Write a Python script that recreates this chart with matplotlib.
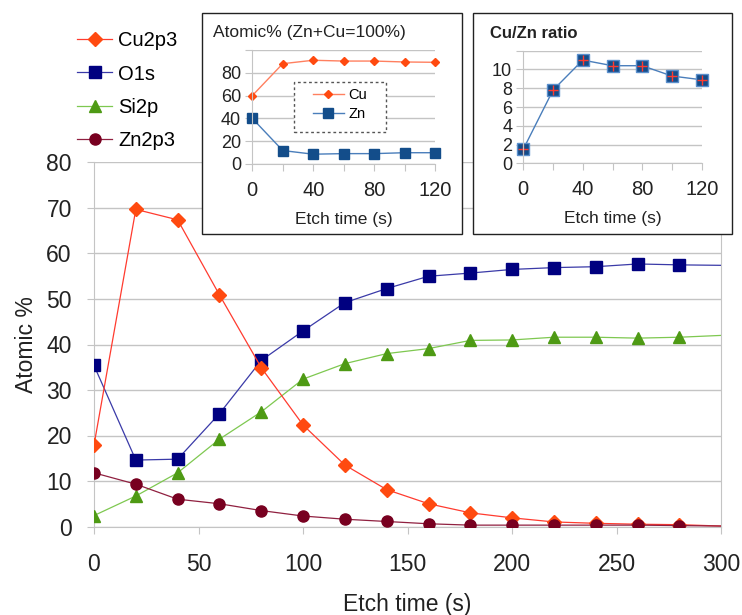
import numpy as np
import matplotlib
matplotlib.use("Agg")
import matplotlib.pyplot as plt
from matplotlib.patches import Rectangle

plt.rcParams['font.family'] = ['Liberation Sans', 'DejaVu Sans']

# main chart data (last point at 300 s is drawn without marker)
etch_time = [0, 20, 40, 60, 80, 100, 120, 140, 160, 180, 200, 220, 240, 260, 280, 300]
cu2p3 = [17.9, 69.7, 67.4, 50.9, 34.9, 22.3, 13.5, 8.1, 5.0, 3.0, 1.9, 1.0, 0.7, 0.5, 0.4, 0.1]
o1s = [35.4, 14.6, 14.8, 24.8, 36.5, 43.0, 49.2, 52.3, 55.0, 55.7, 56.5, 56.9, 57.1, 57.7, 57.5, 57.4]
si2p = [2.4, 6.7, 11.8, 19.2, 25.2, 32.4, 35.8, 38.0, 39.1, 40.9, 41.0, 41.6, 41.6, 41.4, 41.6, 42.0]
zn2p3 = [11.8, 9.3, 6.0, 5.0, 3.5, 2.3, 1.6, 1.1, 0.6, 0.3, 0.3, 0.3, 0.3, 0.3, 0.2, 0.1]

# inset data
inset_time = [0, 20, 40, 60, 80, 100, 120]
cu_pct = [60.0, 88.0, 91.0, 90.3, 90.3, 89.5, 89.2]
zn_pct = [40.0, 11.8, 8.6, 9.1, 9.1, 9.9, 9.9]
cu_zn_ratio = [1.5, 7.8, 11.0, 10.4, 10.4, 9.3, 8.9]

W, H = 742, 615
fig = plt.figure(figsize=(W / 100, H / 100), dpi=100)

def fx(px):
    return px / W

def fy(py):
    return 1 - py / H

grid_c = '#c4c4c4'
txt_c = '#222222'

# ---------------- main axes ----------------
ax = fig.add_axes([fx(94), fy(526.5), fx(721.3 - 94), (526.5 - 162.5) / H])
mk = list(range(15))
ax.plot(etch_time, cu2p3, '-', color='#ff3b2f', lw=0.9, marker='D', ms=7.5,
        mfc='#ff4a10', mec='#ff4a10', markevery=mk, label='Cu2p3', zorder=4)
ax.plot(etch_time, o1s, '-', color='#3a3aa8', lw=0.9, marker='s', ms=8,
        mfc='#000080', mec='#000080', markevery=mk, label='O1s', zorder=3)
ax.plot(etch_time, si2p, '-', color='#7ec850', lw=0.9, marker='^', ms=9,
        mfc='#4e9a14', mec='#4e9a14', markevery=mk, label='Si2p', zorder=3)
ax.plot(etch_time, zn2p3, '-', color='#902040', lw=0.9, marker='o', ms=8,
        mfc='#780020', mec='#780020', markevery=mk, label='Zn2p3', zorder=5)

ax.set_xlim(0, 300)
ax.set_ylim(0, 80)
ax.set_xticks(np.arange(0, 301, 50))
ax.set_yticks(np.arange(0, 81, 10))
ax.grid(axis='y', color=grid_c, lw=1)
ax.set_axisbelow(True)
for s in ['left', 'right', 'top', 'bottom']:
    ax.spines[s].set_color(grid_c)
ax.spines['top'].set_visible(False)
ax.tick_params(axis='y', length=5, color=grid_c, labelsize=16.5, pad=11, labelcolor=txt_c)
ax.tick_params(axis='x', length=5, color=grid_c, labelsize=16.5, pad=14, labelcolor=txt_c)
ax.set_xlabel('Etch time (s)', fontsize=16.5, labelpad=12, color=txt_c)
ax.set_ylabel('Atomic %', fontsize=16.5, labelpad=6, color=txt_c)

fig.legend(loc='upper left', bbox_to_anchor=(fx(77), fy(31)), frameon=False,
           fontsize=14.5, handlelength=1.75, handletextpad=0.3, labelspacing=0.72,
           borderpad=0, borderaxespad=0)

# ---------------- inset frames ----------------
for x0, x1 in [(202, 462), (472.7, 731.7)]:
    fig.patches.append(Rectangle((fx(x0), fy(233.5)), fx(x1 - x0), (233.5 - 12.5) / H,
                                 transform=fig.transFigure, facecolor='white',
                                 edgecolor=txt_c, lw=1.0, zorder=10))

def style_inset(a):
    a.set_zorder(11)
    a.patch.set_alpha(0)
    a.set_xlim(0, 120)
    a.set_xticks(np.arange(0, 121, 20))
    a.set_xticklabels(['0', '', '40', '', '80', '', '120'])
    a.grid(axis='y', color=grid_c, lw=1)
    a.set_axisbelow(True)
    for s in ['left', 'right', 'top', 'bottom']:
        a.spines[s].set_color(grid_c)
    a.spines['top'].set_visible(False)
    a.spines['right'].set_visible(False)
    a.tick_params(axis='both', length=5, color=grid_c, labelcolor=txt_c)
    a.tick_params(axis='x', pad=7, labelsize=14.5)
    a.tick_params(axis='y', pad=3, labelsize=13)
    a.set_xlabel('Etch time (s)', fontsize=12.5, labelpad=9, color=txt_c)

# inset 1: atomic % Zn+Cu
ax1 = fig.add_axes([fx(252.3), fy(164), fx(435 - 252.3), (164 - 50) / H])
style_inset(ax1)
ax1.plot(inset_time, cu_pct, '-', color='#ff8060', lw=1, marker='D', ms=4.5,
         mfc='#ff4a10', mec='#ff4a10', label='Cu', clip_on=False)
ax1.plot(inset_time, zn_pct, '-', color='#4a7ebb', lw=1, marker='s', ms=7,
         mfc='#134d8a', mec='#134d8a', label='Zn', clip_on=False)
ax1.set_ylim(0, 100)
ax1.set_yticks(np.arange(0, 101, 20))
ax1.set_yticklabels(['0', '20', '40', '60', '80', ''])
# dashed legend frame
ax1.add_patch(Rectangle((fx(294), fy(132)), fx(386 - 294), (132 - 82) / H,
                        transform=fig.transFigure, facecolor='white',
                        edgecolor='#555555', lw=1.0, ls=(0, (2, 2)),
                        clip_on=False, zorder=6))
leg = ax1.legend(loc='upper left', bbox_to_anchor=(fx(313), fy(88)),
                 bbox_transform=fig.transFigure, frameon=False, fontsize=10.5,
                 handlelength=2.1, handletextpad=0.35, labelspacing=0.35,
                 borderpad=0, borderaxespad=0)
leg.set_zorder(7)
fig.text(fx(213), fy(32), 'Atomic% (Zn+Cu=100%)', fontsize=12.5,
         va='center', ha='left', color=txt_c, zorder=12)

# inset 2: Cu/Zn ratio
ax2 = fig.add_axes([fx(523.3), fy(163.3), fx(701.7 - 523.3), (163.3 - 50.7) / H])
style_inset(ax2)
ax2.plot(inset_time, cu_zn_ratio, '-', color='#4a7ebb', lw=1, marker='s', ms=8.5,
         mfc='#134d8a', mec='#5b8fcc', clip_on=False)
ax2.plot(inset_time, cu_zn_ratio, ls='none', marker='+', ms=7, mew=1,
         color='#ff3b2f', clip_on=False)
ax2.set_ylim(0, 12)
ax2.set_yticks(np.arange(0, 13, 2))
ax2.set_yticklabels(['0', '2', '4', '6', '8', '10', ''])
fig.text(fx(490), fy(33), 'Cu/Zn ratio', fontsize=12, fontweight='bold',
         va='center', ha='left', color=txt_c, zorder=12)

fig.savefig('out.png', dpi=100)
